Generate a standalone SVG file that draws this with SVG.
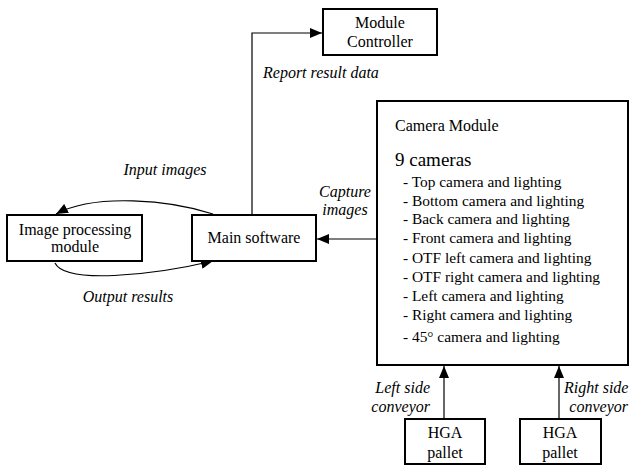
<svg xmlns="http://www.w3.org/2000/svg" width="631" height="466" viewBox="0 0 631 466" font-family="'Liberation Serif', 'Times New Roman', 'DejaVu Serif', serif">
<style>
.box{fill:#fff;stroke:#000;stroke-width:2}
text{font-family:'Liberation Serif','Times New Roman','DejaVu Serif',serif;font-size:16px;fill:#000}
.c{text-anchor:middle}
.i{font-style:italic}
.l{font-size:15.4px}
.con{fill:none;stroke:#000;stroke-width:1.2}
</style>
<defs>
<marker id="ah" markerUnits="userSpaceOnUse" markerWidth="12" markerHeight="10" refX="12" refY="5" orient="auto">
<path d="M0,0 L12,5 L0,10 z" fill="#000"/>
</marker>
</defs>
<rect width="631" height="466" fill="#fff"/>
<g id="connectors">
<path class="con" d="M252,215 L252,33 L322,33" marker-end="url(#ah)"/>
<path class="con" d="M377,239 L317,239" marker-end="url(#ah)"/>
<path class="con" d="M213,214 C170,200 95,193 56,214" marker-end="url(#ah)"/>
<path class="con" d="M55,263 C65,284 150,276 213,261" marker-end="url(#ah)"/>
<path class="con" d="M444,419 L444,366" marker-end="url(#ah)"/>
<path class="con" d="M559,419 L559,366" marker-end="url(#ah)"/>
<text class="i c" x="165" y="175">Input images</text>
<text class="i c" x="128" y="302">Output results</text>
<text class="i" x="263" y="78">Report result data</text>
<text class="i c" x="345" y="197">Capture</text>
<text class="i c" x="345" y="215">images</text>
<text class="i" x="430" y="393" text-anchor="end">Left side</text>
<text class="i" x="430" y="412" text-anchor="end">conveyor</text>
<text class="i" x="564" y="393">Right side</text>
<text class="i" x="628" y="412" text-anchor="end">conveyor</text>
</g>
<g id="module-controller">
<rect class="box" x="323" y="9" width="114" height="46"/>
<text class="c" x="380" y="28">Module</text>
<text class="c" x="380" y="47">Controller</text>
</g>
<g id="image-processing">
<rect class="box" x="7" y="215" width="135" height="46"/>
<text class="c" x="75" y="235">Image processing</text>
<text class="c" x="75" y="252">module</text>
</g>
<g id="main-software">
<rect class="box" x="192" y="215" width="124" height="46"/>
<text class="c" x="254" y="243">Main software</text>
</g>
<g id="camera-module">
<rect class="box" x="377" y="101" width="251" height="264"/>
<text x="395" y="131">Camera Module</text>
<text x="395" y="166" style="font-size:19px">9 cameras</text>
<text class="l" x="403" y="187">- Top camera and lighting</text>
<text class="l" x="403" y="206">- Bottom camera and lighting</text>
<text class="l" x="403" y="224">- Back camera and lighting</text>
<text class="l" x="403" y="243">- Front camera and lighting</text>
<text class="l" x="403" y="263">- OTF left camera and lighting</text>
<text class="l" x="403" y="282">- OTF right camera and lighting</text>
<text class="l" x="403" y="301">- Left camera and lighting</text>
<text class="l" x="403" y="320">- Right camera and lighting</text>
<text class="l" x="403" y="342">- 45° camera and lighting</text>
</g>
<g id="hga-left">
<rect class="box" x="405" y="419" width="80" height="45"/>
<text class="c" x="445" y="438">HGA</text>
<text class="c" x="445" y="458">pallet</text>
</g>
<g id="hga-right">
<rect class="box" x="520" y="419" width="81" height="45"/>
<text class="c" x="560" y="438">HGA</text>
<text class="c" x="560" y="458">pallet</text>
</g>
</svg>
